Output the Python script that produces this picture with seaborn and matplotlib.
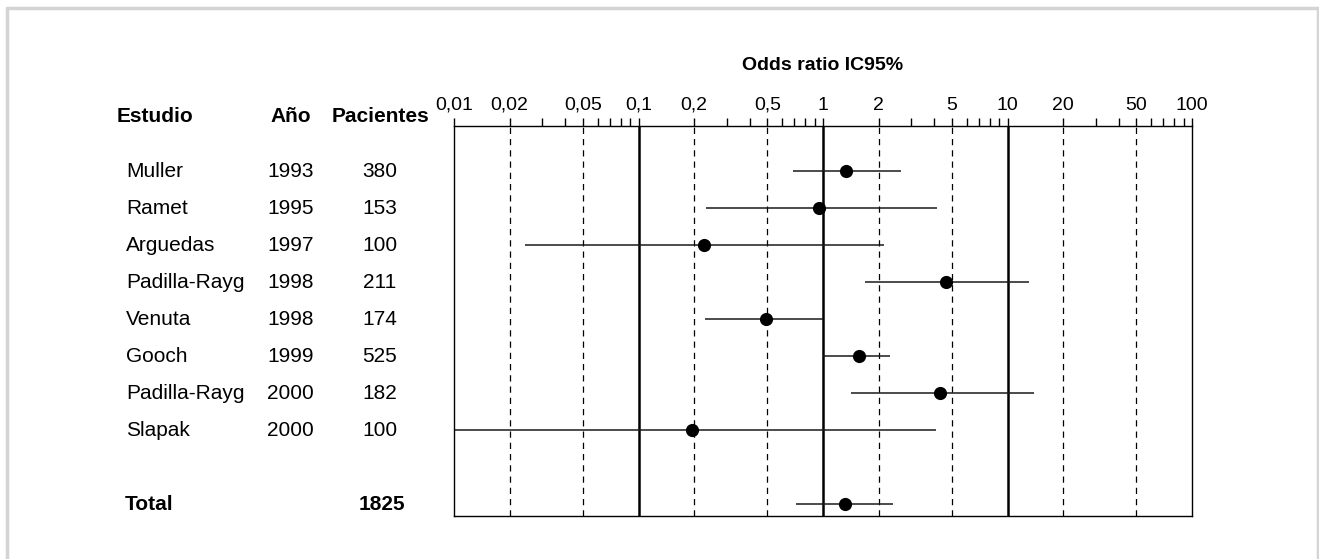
import matplotlib
matplotlib.use("Agg")
import matplotlib.pyplot as plt
import matplotlib.ticker as mticker
from matplotlib.lines import Line2D
import seaborn as sns
import pandas as pd

# ---- data ----
studies = ["Muller", "Ramet", "Arguedas", "Padilla-Rayg", "Venuta", "Gooch", "Padilla-Rayg", "Slapak"]
years = [1993, 1995, 1997, 1998, 1998, 1999, 2000, 2000]
patients = [380, 153, 100, 211, 174, 525, 182, 100]
odds = [1.33, 0.955, 0.227, 4.66, 0.488, 1.56, 4.33, 0.194]
ci_low = [0.69, 0.232, 0.0242, 1.68, 0.23, 1.0, 1.42, 0.01]
ci_high = [2.65, 4.13, 2.14, 13.0, 1.0, 2.32, 13.9, 4.08]
total_label = "Total"
total_patients = 1825
total_or = 1.32
total_low = 0.71
total_high = 2.40

major_ticks = [0.01, 0.02, 0.05, 0.1, 0.2, 0.5, 1, 2, 5, 10, 20, 50, 100]
major_labels = ["0,01", "0,02", "0,05", "0,1", "0,2", "0,5", "1", "2", "5", "10", "20", "50", "100"]
solid_refs = [0.1, 1, 10]
dashed_refs = [0.02, 0.05, 0.2, 0.5, 2, 5, 20, 50]

sns.set_theme(style="white")
plt.rcParams["font.family"] = ["Liberation Sans", "DejaVu Sans"]

W, H = 1319, 559
fig = plt.figure(figsize=(W / 100, H / 100), dpi=100)
fig.patch.set_facecolor("white")

def fx(px):
    return px / W

def fy(py):
    return 1 - py / H

left, right, top, bottom = 454, 1192, 126, 516
ax = fig.add_axes([fx(left), fy(bottom), fx(right) - fx(left), fy(top) - fy(bottom)])

rows = list(range(len(studies)))
total_row = len(studies) + 1
df = pd.DataFrame({
    "study": studies + [total_label],
    "y": rows + [total_row],
    "or": odds + [total_or],
    "lo": ci_low + [total_low],
    "hi": ci_high + [total_high],
})

ax.set_xscale("log")
ax.set_xlim(0.01, 100)
ax.set_ylim(9.32, -1.22)

# reference lines
for v in solid_refs:
    ax.axvline(v, color="black", lw=1.8, zorder=1)
for v in dashed_refs:
    ax.axvline(v, color="black", lw=0.9, ls=(0, (5, 4)), zorder=1)

# confidence intervals
ax.hlines(df["y"], df["lo"], df["hi"], color="#1a1a1a", lw=1.1, zorder=2)
sns.scatterplot(data=df, x="or", y="y", ax=ax, color="black", s=90,
                edgecolor="black", linewidth=0, zorder=3, legend=False)

ax.set_xlabel("")
ax.set_ylabel("")
ax.set_yticks([])
ax.xaxis.set_ticks_position("top")
ax.xaxis.set_label_position("top")
ax.set_xticks(major_ticks)
ax.set_xticklabels(major_labels)
ax.xaxis.set_minor_locator(mticker.LogLocator(base=10, subs=[3, 4, 6, 7, 8, 9], numticks=20))
ax.xaxis.set_minor_formatter(mticker.NullFormatter())
ax.tick_params(axis="x", which="both", direction="out", length=6, width=1, color="black",
               top=True, bottom=False, labeltop=True, labelbottom=False)
ax.tick_params(axis="x", which="major", labelsize=14, pad=3, labelcolor="black")
for s in ax.spines.values():
    s.set_color("black")
    s.set_linewidth(1.0)
ax.grid(False)

# title above the axis
fig.text((fx(left) + fx(right)) / 2, fy(66), "Odds ratio IC95%", ha="center", va="center",
         fontsize=14, fontweight="bold", color="black")

# table headers
hdr_y = fy(117)
fig.text(fx(117), hdr_y, "Estudio", ha="left", va="center", fontsize=15, fontweight="bold", color="black")
fig.text(fx(270), hdr_y, "Año", ha="left", va="center", fontsize=15, fontweight="bold", color="black")
fig.text(fx(332), hdr_y, "Pacientes", ha="left", va="center", fontsize=15, fontweight="bold", color="black")

# table rows, aligned to the axis rows
trans = matplotlib.transforms.blended_transform_factory(fig.transFigure, ax.transData)
for yv, name, yr, n in zip(rows, studies, years, patients):
    fig.text(fx(126), yv, name, transform=trans, ha="left", va="center", fontsize=15, color="black")
    fig.text(fx(267), yv, str(yr), transform=trans, ha="left", va="center", fontsize=15, color="black")
    fig.text(fx(380), yv, str(n), transform=trans, ha="center", va="center", fontsize=15, color="black")
fig.text(fx(125), total_row, total_label, transform=trans, ha="left", va="center",
         fontsize=15, fontweight="bold", color="black")
fig.text(fx(382), total_row, str(total_patients), transform=trans, ha="center", va="center",
         fontsize=15, fontweight="bold", color="black")

# light gray outer frame (left, top, right)
frame_c = "#d4d4d4"
fig.add_artist(Line2D([fx(7), fx(7)], [0, fy(8)], color=frame_c, lw=2.5, transform=fig.transFigure))
fig.add_artist(Line2D([fx(7), fx(1318)], [fy(8), fy(8)], color=frame_c, lw=2.5, transform=fig.transFigure))
fig.add_artist(Line2D([fx(1318), fx(1318)], [fy(8), 0], color=frame_c, lw=2.5, transform=fig.transFigure))

fig.savefig("out.png", dpi=100, facecolor="white")
